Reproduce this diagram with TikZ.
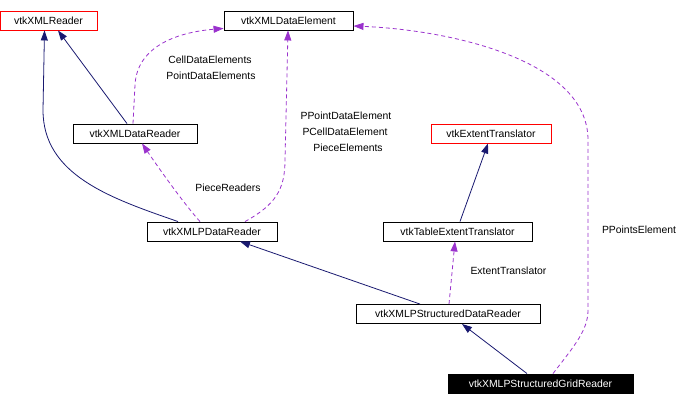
\documentclass[tikz,border=0pt]{standalone}
\usepackage{fontspec}
\setmainfont{Liberation Sans}
\usetikzlibrary{arrows.meta}
\definecolor{navyedge}{HTML}{191970}
\definecolor{purpedge}{HTML}{9A32CD}
\begin{document}
\begin{tikzpicture}[x=1pt,y=-1pt,
  cls/.style={draw=black,line width=0.9pt,minimum height=19pt,inner sep=0pt,font=\fontsize{10.4pt}{12pt}\selectfont,fill=white},
  redcls/.style={cls,draw=red},
  selcls/.style={cls,fill=black,text=white},
  inh/.style={draw=navyedge,line width=0.8pt,arrows={-{Triangle[length=10pt,width=7pt,fill=navyedge]}}},
  use/.style={draw=purpedge,line width=0.8pt,dash pattern=on 4pt off 3pt,arrows={-{Triangle[length=10pt,width=7pt,fill=purpedge,sep=0pt]}}},
  lbl/.style={inner sep=0pt,font=\fontsize{10.4pt}{12pt}\selectfont}]
\useasboundingbox (0,0) rectangle (689,405);
% nodes
\node[redcls,minimum width=97pt] (xr) at (48.5,20.5) {vtkXMLReader};
\node[cls,minimum width=129pt] (xde) at (288.5,20.5) {vtkXMLDataElement};
\node[cls,minimum width=124pt] (xdr) at (135,133.5) {vtkXMLDataReader};
\node[redcls,minimum width=120pt] (et) at (491,133.5) {vtkExtentTranslator};
\node[cls,minimum width=130pt] (pdr) at (212,231.5) {vtkXMLPDataReader};
\node[cls,minimum width=149pt] (tet) at (457.5,231.5) {vtkTableExtentTranslator};
\node[cls,minimum width=184pt] (psdr) at (448,314) {vtkXMLPStructuredDataReader};
\node[selcls,minimum width=185pt] (psgr) at (540.5,383.5) {vtkXMLPStructuredGridReader};
% labels
\node[lbl] (l1) at (210,60) {CellDataElements};
\node[lbl] (l2) at (211,76) {PointDataElements};
\node[lbl] (l3) at (346,116) {PPointDataElement};
\node[lbl] (l4) at (345,131.5) {PCellDataElement};
\node[lbl] (l5) at (348,147.5) {PieceElements};
\node[lbl] (l6) at (228,188) {PieceReaders};
\node[lbl] (l7) at (508.5,271) {ExtentTranslator};
\node[lbl] (l8) at (639,230) {PPointsElement};
% inheritance edges
\draw[inh] ([xshift=-8pt]xdr.north) -- ([xshift=9.5pt]xr.south);
\draw[inh] ([xshift=-34pt]pdr.north) .. controls (110,198) and (43,175) .. (43,110) -- ([xshift=-4pt]xr.south);
\draw[inh] ([xshift=-28pt]psdr.north) -- ([xshift=28pt]pdr.south);
\draw[inh] ([xshift=2.5pt]tet.north) -- ([xshift=-3pt]et.south);
\draw[inh] ([xshift=-13.5pt]psgr.north) -- ([xshift=14pt]psdr.south);
% usage edges
\draw[use] ([xshift=-2pt]xdr.north) -- (135,85) .. controls (137,45) and (180,32) .. ([yshift=2pt]xde.south west);
\draw[use] ([xshift=-12pt]pdr.north) .. controls (185,205) and (160,170) .. ([xshift=7pt]xdr.south);
\draw[use] ([xshift=33pt]pdr.north) .. controls (275,205) and (285,190) .. (285,160) -- ([xshift=-0.5pt]xde.south);
\draw[use] ([xshift=1pt]psdr.north) -- ([xshift=-2.5pt]tet.south);
\draw[use] ([xshift=12.5pt]psgr.north) .. controls (575,345) and (588,330) .. (588,310) -- (588,140) .. controls (588,60) and (450,30) .. ([yshift=-5.5pt]xde.east);
\end{tikzpicture}
\end{document}
